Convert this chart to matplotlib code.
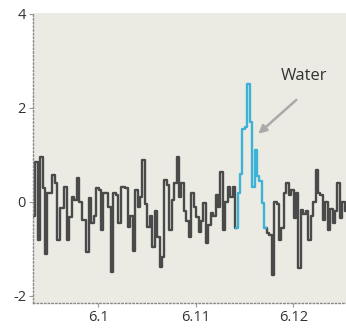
import numpy as np
import matplotlib
matplotlib.use("Agg")
import matplotlib.pyplot as plt

# frequency channels
f_start = 6.0934
f_step = 0.00025
intensity = [
    -0.3, 0.85, -0.8, 0.95, 0.3, -1.1, 0.2, 0.2, 0.57, 0.4,
    -0.8, -0.13, -0.13, 0.32, -0.8, -0.32, 0.1, 0.05, 0.5, 0.0,
    -0.38, -0.38, -1.06, 0.08, -0.45, -0.3, 0.3, 0.25, -0.6, 0.2,
    0.2, -0.1, -1.5, 0.2, 0.15, -0.45, 0.32, 0.32, 0.3, -0.53,
    -0.3, -1.05, 0.25, -0.1, 0.1, 0.9, -0.05, -0.53, -0.3, -0.95,
    -0.2, -0.75, -1.38, -1.17, 0.47, 0.35, -0.6, 0.05, 0.4, 0.95,
    0.1, 0.4, -0.2, -0.4, -0.75, 0.2, -0.1, -0.32, -0.63, -0.4,
    -0.02, -0.87, -0.5, -0.23, -0.3, 0.15, -0.1, 0.63, -0.6, 0.0,
    0.32, 0.1, 0.32, -0.55, 0.2, 0.6, 1.55, 1.6, 2.5, 1.7,
    0.32, 1.1, 0.55, 0.45, -0.02, -0.55, -0.65, -0.7, -1.55, 0.0,
    -0.05, -0.8, -0.55, 0.2, 0.4, 0.15, 0.25, -0.35, 0.2, -1.4,
    -0.17, -0.25, -0.2, -0.8, -0.3, 0.0, 0.68, 0.2, 0.15, -0.38,
    0.0, -0.6, -0.15, -0.45, -0.2, 0.4, -0.35, 0.0, -0.2,
]
line_start, line_end = 83, 95   # channels of the water line
xticks = [6.10, 6.11, 6.12]
xtick_labels = ["6.1", "6.11", "6.12"]
yticks = [-2, 0, 2, 4]
ytick_labels = ["-2", "0", "2", "4"]
label = "Water"

freq = f_start + f_step * np.arange(len(intensity))
vals = np.array(intensity)

plt.rcParams['font.family'] = ['Open Sans', 'DejaVu Sans']
fig = plt.figure(figsize=(3.46, 3.29), dpi=100)
ax = fig.add_axes([0.0954, 0.079, 0.9046, 0.8815])
ax.set_facecolor('#ebebe4')

gray = '#4a4a4a'
cyan = '#3cb3d6'
ax.plot(freq[:line_start + 1], vals[:line_start + 1], drawstyle='steps-mid', color=gray, lw=1.7)
ax.plot(freq[line_end:], vals[line_end:], drawstyle='steps-mid', color=gray, lw=1.7)
ax.plot(freq[line_start:line_end + 1], vals[line_start:line_end + 1], drawstyle='steps-mid', color=cyan, lw=1.7)

ax.set_xlim(6.0933, 6.1254)
ax.set_ylim(-2.15, 4.02)
ax.set_xticks(xticks)
ax.set_xticklabels(xtick_labels)
ax.set_yticks(yticks)
ax.set_yticklabels(ytick_labels)
ax.tick_params(axis='both', colors='#999999', labelcolor='#333333', labelsize=10.5, length=3, width=0.8, pad=2)

for s in ['top', 'right']:
    ax.spines[s].set_visible(False)
for s in ['left', 'bottom']:
    ax.spines[s].set_linestyle(':')
    ax.spines[s].set_color('#888888')
    ax.spines[s].set_linewidth(1.0)

ax.text(6.1211, 2.67, label, fontsize=12, color='#333333', ha='center', va='center')
ax.annotate('', xy=(6.1164, 1.45), xytext=(6.1203, 2.17),
            arrowprops=dict(arrowstyle='-|>', color='#aaaaaa', lw=1.8,
                            mutation_scale=12, shrinkA=0, shrinkB=0))

fig.savefig('out.png', dpi=100, facecolor='white')
